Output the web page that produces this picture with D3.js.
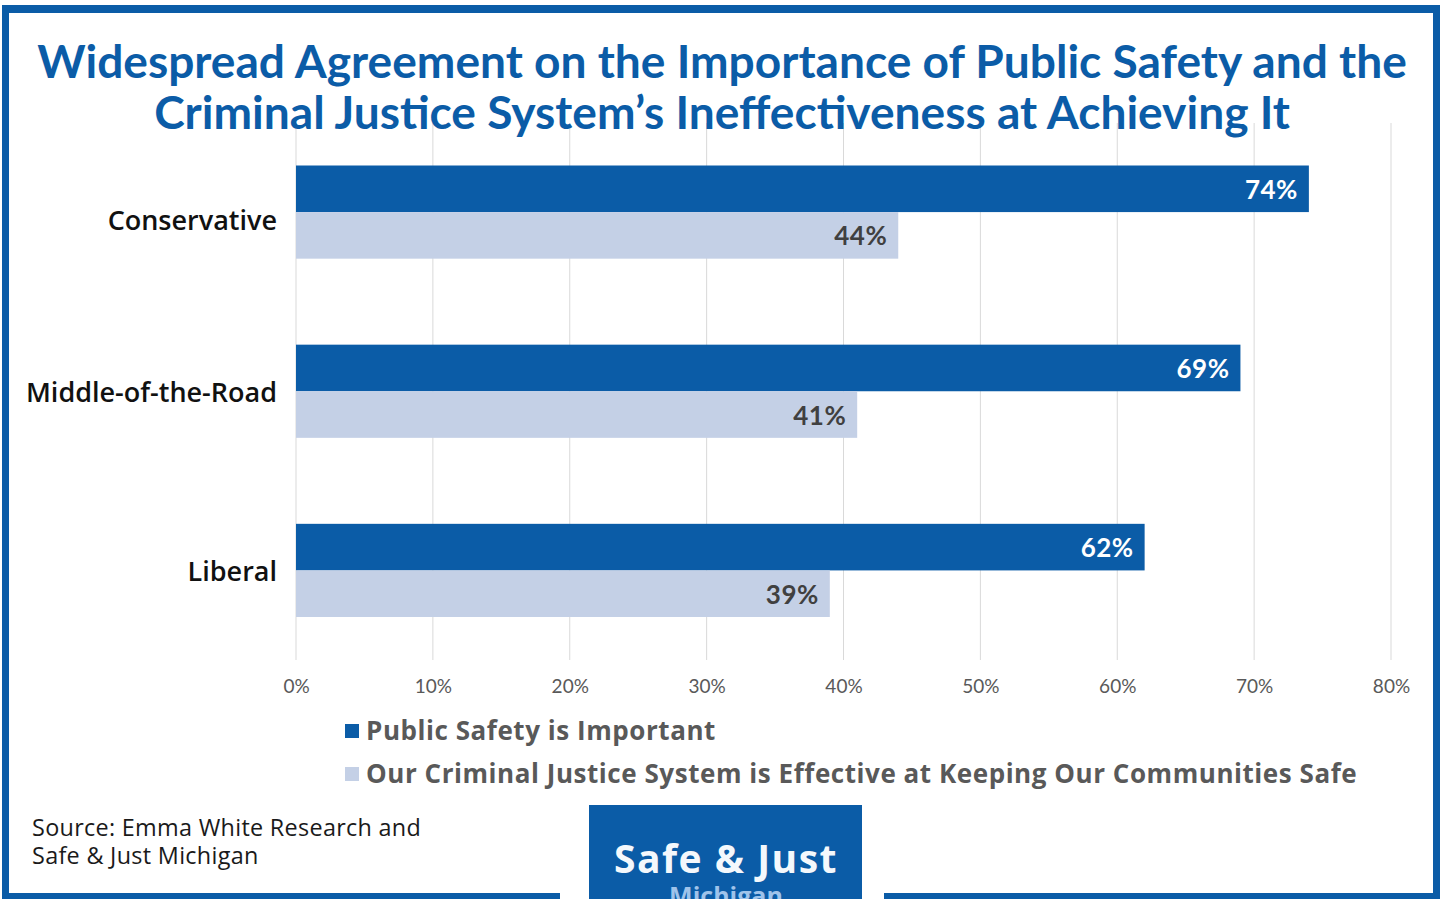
<!DOCTYPE html>
<html>
<head>
<meta charset="utf-8">
<script src="https://cdn.jsdelivr.net/npm/d3@7"></script>
<style>
  html, body { margin: 0; padding: 0; background: #ffffff; }
  svg { display: block; }
</style>
</head>
<body>
<svg id="chart" width="1445" height="899" font-family="Lato, 'Open Sans', sans-serif"></svg>
<script>
// Survey results by political identity
const categories = ["Conservative", "Middle-of-the-Road", "Liberal"];
const seriesNames = [
  "Public Safety is Important",
  "Our Criminal Justice System is Effective at Keeping Our Communities Safe"
];
const publicSafety = [74, 69, 62];
const systemEffective = [44, 41, 39];
const tickValues = [0, 10, 20, 30, 40, 50, 60, 70, 80];
const titleLines = [
  "Widespread Agreement on the Importance of Public Safety and the",
  "Criminal Justice System\u2019s Ineffectiveness at Achieving It"
];
const sourceLines = ["Source: Emma White Research and", "Safe & Just Michigan"];

const DARK = "#0b5ca7";
const LIGHT = "#c4d0e6";
const GRID = "#d9d9d9";
const WIDE = "'Open Sans', Lato, sans-serif";

const svg = d3.select("#chart");

// chart area
const x = d3.scaleLinear().domain([0, 80]).range([296, 1391]);
const y0 = d3.scaleBand().domain(categories).range([122.5, 660])
  .paddingInner(0.48).paddingOuter(0.24);
const y1 = d3.scaleBand().domain([0, 1]).range([0, y0.bandwidth()]);

// vertical gridlines
svg.append("g").selectAll("line").data(tickValues).join("line")
  .attr("x1", d => x(d)).attr("x2", d => x(d))
  .attr("y1", 123).attr("y2", 660)
  .attr("stroke", GRID).attr("stroke-width", 1);

// bars
const rows = categories.map((c, i) => ({ cat: c, vals: [publicSafety[i], systemEffective[i]] }));
const groups = svg.append("g").selectAll("g").data(rows).join("g")
  .attr("transform", d => `translate(0,${y0(d.cat)})`);

groups.selectAll("rect").data(d => d.vals.map((v, k) => ({ v, k }))).join("rect")
  .attr("x", x(0))
  .attr("y", d => y1(d.k))
  .attr("width", d => x(d.v) - x(0))
  .attr("height", y1.bandwidth())
  .attr("fill", d => d.k === 0 ? DARK : LIGHT);

groups.selectAll("text.val").data(d => d.vals.map((v, k) => ({ v, k }))).join("text")
  .attr("class", "val")
  .attr("x", d => x(d.v) - 11)
  .attr("y", d => y1(d.k) + y1.bandwidth() / 2 + 10)
  .attr("text-anchor", "end")
  .style("font-family", "Lato, sans-serif")
  .attr("font-size", 26)
  .attr("font-weight", 700)
  .attr("letter-spacing", 0.5)
  .attr("fill", d => d.k === 0 ? "#ffffff" : "#404040")
  .text(d => d.v + "%");

// category labels (the first row's label sits a little lower)
svg.append("g").selectAll("text").data(categories).join("text")
  .attr("x", 277)
  .attr("y", (d, i) => y0(d) + y0.bandwidth() / 2 + (i === 0 ? 17.5 : 10.5))
  .attr("text-anchor", "end")
  .style("font-family", WIDE)
  .attr("font-size", 27)
  .attr("font-weight", 600)
  .attr("fill", "#111111")
  .text(d => d);

// x axis tick labels
const axis = d3.axisBottom(x).tickValues(tickValues).tickSize(0).tickPadding(0)
  .tickFormat(d => d + "%");
const ax = svg.append("g").attr("transform", "translate(0,693)").call(axis);
ax.select(".domain").remove();
ax.attr("font-family", null);
ax.selectAll("text")
  .attr("dy", 0)
  .style("font-family", "Lato, sans-serif")
  .attr("font-size", 19)
  .attr("fill", "#595959");

// legend
const legend = svg.append("g").selectAll("g").data(seriesNames).join("g")
  .attr("transform", (d, i) => `translate(345,${731 + i * 43})`);
legend.append("rect")
  .attr("x", 0).attr("y", -7).attr("width", 14).attr("height", 14)
  .attr("fill", (d, i) => i === 0 ? DARK : LIGHT);
legend.append("text")
  .attr("x", 21).attr("y", 9)
  .style("font-family", WIDE)
  .attr("font-size", 26)
  .attr("font-weight", 700)
  .attr("letter-spacing", 0.55)
  .attr("fill", "#595959")
  .text(d => d);

// title
const title = svg.append("g").selectAll("text").data(titleLines).join("text")
  .attr("x", 722)
  .attr("y", (d, i) => 78 + i * 51)
  .attr("text-anchor", "middle")
  .style("font-family", "Lato, sans-serif")
  .attr("font-size", 42)
  .attr("font-weight", 700)
  .attr("fill", DARK)
  .text(d => d);
// size the title so the first line spans the header width
const w0 = title.nodes()[0].getComputedTextLength();
title.attr("font-size", 42 * 1370 / w0);

// source note
svg.append("g").selectAll("text").data(sourceLines).join("text")
  .attr("x", 32)
  .attr("y", (d, i) => 836 + i * 28)
  .style("font-family", WIDE)
  .attr("font-size", 23.4)
  .attr("font-weight", 400)
  .attr("letter-spacing", 0.3)
  .attr("fill", "#1a1a1a")
  .text(d => d);

// frame
const frame = svg.append("g").attr("fill", DARK);
frame.append("rect").attr("x", 2).attr("y", 5).attr("width", 1438).attr("height", 8);
frame.append("rect").attr("x", 2).attr("y", 5).attr("width", 7).attr("height", 894);
frame.append("rect").attr("x", 1433).attr("y", 5).attr("width", 7).attr("height", 894);
frame.append("rect").attr("x", 2).attr("y", 893).attr("width", 558).attr("height", 6);
frame.append("rect").attr("x", 884).attr("y", 893).attr("width", 556).attr("height", 6);

// logo badge
const logo = svg.append("g");
logo.append("rect").attr("x", 589).attr("y", 805).attr("width", 273).attr("height", 94)
  .attr("fill", "#0b5ca7");
logo.append("text").attr("x", 726).attr("y", 873).attr("text-anchor", "middle")
  .style("font-family", WIDE)
  .attr("font-size", 39).attr("font-weight", 700).attr("letter-spacing", 1.5)
  .attr("fill", "#f4f8fc")
  .text("Safe & Just");
logo.append("text").attr("x", 726).attr("y", 905).attr("text-anchor", "middle")
  .style("font-family", WIDE)
  .attr("font-size", 25).attr("font-weight", 700).attr("fill", "#9fc3ea")
  .text("Michigan");
</script>
</body>
</html>
